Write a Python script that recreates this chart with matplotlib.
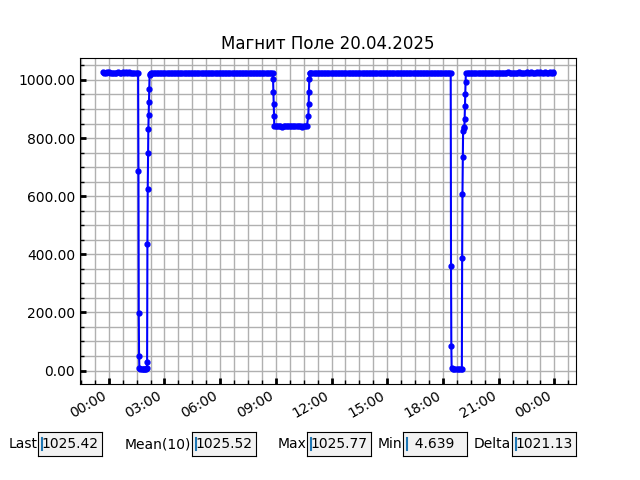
import pandas as pd
import matplotlib
matplotlib.use('Agg')
import matplotlib.pyplot as plt
import matplotlib.dates as mdates
from matplotlib.ticker import AutoMinorLocator, FormatStrFormatter

day = '2025-04-20'

# minutes after 00:00 of 20.04 (negative = evening of 19.04) and field readings
seg1_min = [-20, -15, -10, -5, 0, 5, 10, 15, 20, 25, 30, 35,
            40, 45, 50, 55, 60, 65, 70, 75, 80, 85, 90, 95]
seg1_val = [1025.6, 1025.5, 1025.4, 1025.6, 1025.7, 1025.5, 1025.4, 1025.5, 1025.3, 1025.5, 1025.6, 1025.4,
            1025.5, 1025.6, 1025.4, 1025.7, 1025.5, 1025.6, 1025.4, 1025.5, 1025.3, 1025.5, 1025.4, 1025.5]

dip1_min = [96, 97, 98, 99, 102, 106, 110, 114, 118, 121, 123,
            124, 125, 126, 127, 128, 129, 130, 131, 132, 133]
dip1_val = [685.6, 197.8, 51.4, 8.2, 5.9, 5.1, 4.8, 4.639, 5.3, 6.4, 9.5,
            28.8, 434.0, 626.0, 748.7, 831.0, 879.0, 923.6, 968.0, 1017.0, 1021.8]

seg2_min = [135, 140, 145, 150, 155, 160, 165, 170, 175, 180,
            185, 190, 195, 200, 205, 210, 215, 220, 225, 230,
            235, 240, 245, 250, 255, 260, 265, 270, 275, 280,
            285, 290, 295, 300, 305, 310, 315, 320, 325, 330,
            335, 340, 345, 350, 355, 360, 365, 370, 375, 380,
            385, 390, 395, 400, 405, 410, 415, 420, 425, 430,
            435, 440, 445, 450, 455, 460, 465, 470, 475, 480,
            485, 490, 495, 500, 505, 510, 515, 520, 525, 530]
seg2_val = [1022.9, 1023.4, 1023.8, 1023.5, 1023.9, 1023.6, 1023.2, 1023.7, 1023.4, 1023.1,
            1023.5, 1023.8, 1023.3, 1023.6, 1023.9, 1023.4, 1023.2, 1023.6, 1023.3, 1023.0,
            1022.8, 1023.1, 1022.9, 1022.7, 1023.0, 1022.8, 1022.6, 1022.9, 1022.7, 1022.5,
            1022.8, 1022.6, 1022.9, 1022.7, 1022.5, 1022.8, 1022.6, 1022.4, 1022.7, 1022.5,
            1022.6, 1022.4, 1022.7, 1022.5, 1022.3, 1022.6, 1022.4, 1022.7, 1022.5, 1022.3,
            1022.5, 1022.7, 1022.4, 1022.6, 1022.3, 1022.5, 1022.7, 1022.4, 1022.6, 1022.5,
            1022.3, 1022.6, 1022.4, 1022.5, 1022.7, 1022.4, 1022.6, 1022.3, 1022.5, 1022.4,
            1022.6, 1022.3, 1022.5, 1022.4, 1022.6, 1022.5, 1022.3, 1022.5, 1022.4, 1022.6]

step_min = [531, 532, 533, 534, 535,
            540, 545, 550, 555, 560, 565, 570, 575, 580, 585, 590,
            595, 600, 605, 610, 615, 620, 625, 630, 635, 640,
            645, 646, 647, 648, 649]
step_val = [1002.0, 960.0, 918.0, 877.0, 840.5,
            840.2, 839.9, 840.4, 840.1, 839.7, 840.3, 840.0, 839.8, 840.5, 840.2, 839.9,
            840.1, 840.3, 839.8, 840.0, 840.4, 840.1, 839.7, 840.2, 840.0, 839.9,
            877.0, 918.0, 960.0, 1002.0, 1022.9]

seg3_min = [650, 655, 660, 665, 670, 675, 680, 685, 690, 695,
            700, 705, 710, 715, 720, 725, 730, 735, 740, 745,
            750, 755, 760, 765, 770, 775, 780, 785, 790, 795,
            800, 805, 810, 815, 820, 825, 830, 835, 840, 845,
            850, 855, 860, 865, 870, 875, 880, 885, 890, 895,
            900, 905, 910, 915, 920, 925, 930, 935, 940, 945,
            950, 955, 960, 965, 970, 975, 980, 985, 990, 995,
            1000, 1005, 1010, 1015, 1020, 1025, 1030, 1035, 1040, 1045,
            1050, 1055, 1060, 1065, 1070, 1075, 1080, 1085, 1090, 1095,
            1100, 1105]
seg3_val = [1023.2, 1023.5, 1023.4, 1023.7, 1023.5, 1023.3, 1023.6, 1023.4, 1023.5, 1023.7,
            1023.4, 1023.6, 1023.3, 1023.5, 1023.8, 1023.4, 1023.6, 1023.5, 1023.3, 1023.6,
            1023.5, 1023.7, 1023.4, 1023.6, 1023.3, 1023.5, 1023.7, 1023.4, 1023.6, 1023.5,
            1023.3, 1023.6, 1023.4, 1023.5, 1023.7, 1023.4, 1023.6, 1023.3, 1023.5, 1023.4,
            1023.6, 1023.4, 1023.5, 1023.7, 1023.5, 1023.3, 1023.6, 1023.4, 1023.5, 1023.6,
            1023.4, 1023.5, 1023.3, 1023.6, 1023.4, 1023.7, 1023.5, 1023.4, 1023.6, 1023.3,
            1023.5, 1023.6, 1023.4, 1023.5, 1023.3, 1023.6, 1023.5, 1023.7, 1023.4, 1023.5,
            1023.6, 1023.4, 1023.5, 1023.3, 1023.6, 1023.5, 1023.4, 1023.6, 1023.5, 1023.7,
            1023.4, 1023.5, 1023.6, 1023.4, 1023.5, 1023.3, 1023.6, 1023.5, 1023.4, 1023.6,
            1023.5, 1023.8]

dip3_min = [1106, 1107, 1108, 1112, 1117, 1122, 1127, 1132, 1137, 1141,
            1142, 1143, 1144, 1145, 1147, 1149, 1150, 1151, 1152, 1153, 1154]
dip3_val = [358.0, 83.6, 9.4, 6.1, 5.2, 4.9, 5.0, 5.4, 5.8, 6.7,
            388.7, 608.0, 735.0, 823.0, 839.5, 833.0, 865.0, 910.0, 951.0, 992.0, 1023.0]

seg4_min = [1160, 1165, 1170, 1175, 1180, 1185, 1190, 1195, 1200, 1205,
            1210, 1215, 1220, 1225, 1230, 1235, 1240, 1245, 1250, 1255,
            1260, 1265, 1270, 1275, 1280, 1285, 1290, 1295, 1300, 1305,
            1310, 1315, 1320, 1325, 1330, 1335, 1340, 1345, 1350, 1355,
            1360, 1365, 1370, 1375, 1380, 1385, 1390, 1395, 1400, 1405,
            1410, 1415, 1420, 1425, 1430, 1435, 1437]
seg4_val = [1024.6, 1024.8, 1024.7, 1025.0, 1024.8, 1025.1, 1024.9, 1025.0, 1024.8, 1025.2,
            1025.0, 1024.9, 1025.3, 1025.1, 1024.9, 1025.2, 1025.0, 1025.3, 1025.1, 1025.4,
            1025.2, 1025.5, 1025.3, 1025.1, 1025.4, 1025.2, 1025.6, 1025.3, 1025.1, 1025.4,
            1025.2, 1025.5, 1025.3, 1025.77, 1025.4, 1025.2, 1025.5, 1025.3, 1025.6, 1025.4,
            1025.3, 1025.6, 1025.4, 1025.5, 1025.3, 1025.6, 1025.4, 1025.7, 1025.5, 1025.4,
            1025.6, 1025.5, 1025.4, 1025.6, 1025.5, 1025.7, 1025.42]

stat_labels = ['Last', 'Mean(10)', 'Max', 'Min', 'Delta']
stat_values = ['1025.42', '1025.52', '1025.77', '  4.639', '1021.13']

minutes = seg1_min + dip1_min + seg2_min + step_min + seg3_min + dip3_min + seg4_min
values = seg1_val + dip1_val + seg2_val + step_val + seg3_val + dip3_val + seg4_val
times = pd.Timestamp(day) + pd.to_timedelta(minutes, unit='m')

fig, ax = plt.subplots(figsize=(6.4, 4.8), dpi=100)
ax.plot(times, values, 'b.-', ms=7, lw=1.5)
ax.set_title('Магнит Поле 20.04.2025')

ax.xaxis.set_major_locator(mdates.HourLocator(byhour=range(0, 24, 3)))
ax.xaxis.set_major_formatter(mdates.DateFormatter('%H:%M'))
ax.xaxis.set_minor_locator(AutoMinorLocator(4))
ax.yaxis.set_minor_locator(AutoMinorLocator(4))
ax.yaxis.set_major_formatter(FormatStrFormatter('%.2f'))
ax.grid(which='both', color='#b0b0b0', lw=1)
ax.tick_params(which='major', direction='in', length=4, width=2)
ax.tick_params(which='minor', direction='in', length=3, width=1)
fig.autofmt_xdate()

# stat boxes under the chart
box_left = [0.06, 0.30, 0.48, 0.63, 0.80]
for lab, val, x0 in zip(stat_labels, stat_values, box_left):
    bx = fig.add_axes([x0, 0.05, 0.1, 0.05], facecolor='0.95')
    bx.set_xticks([])
    bx.set_yticks([])
    bx.text(-0.01, 0.5, lab, transform=bx.transAxes, ha='right', va='center')
    bx.text(0.05, 0.5, val, transform=bx.transAxes, ha='left', va='center')
    bx.axvline(0.055, 0.25, 0.75, color='C0', lw=1.5)

fig.savefig('out.png', dpi=100)
